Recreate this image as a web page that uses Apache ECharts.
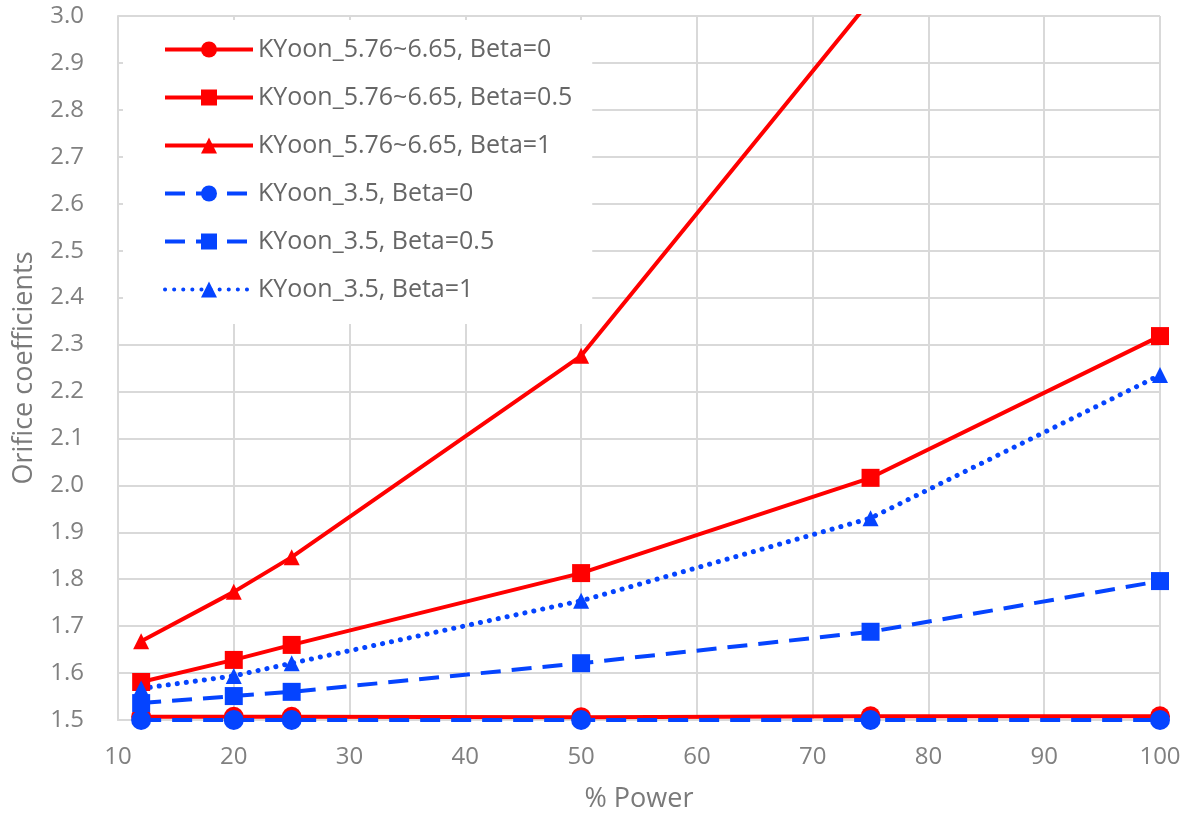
<!DOCTYPE html>
<html>
<head>
<meta charset="utf-8">
<script src="https://cdn.jsdelivr.net/npm/echarts@6/dist/echarts.min.js"></script>
<style>html,body{margin:0;padding:0;background:#fff}#c{width:1188px;height:820px}</style>
</head>
<body>
<div id="c"></div>
<script>
const powerX = [12, 20, 25, 50, 75, 100];
const seriesNames = [
  'KYoon_5.76~6.65, Beta=0',
  'KYoon_5.76~6.65, Beta=0.5',
  'KYoon_5.76~6.65, Beta=1',
  'KYoon_3.5, Beta=0',
  'KYoon_3.5, Beta=0.5',
  'KYoon_3.5, Beta=1'
];
const red_b0   = [1.507, 1.507, 1.507, 1.506, 1.508, 1.508];
const red_b05  = [1.581, 1.628, 1.660, 1.813, 2.016, 2.318];
const red_b1   = [1.668, 1.773, 1.847, 2.276, 3.034, 3.9];
const blue_b0  = [1.500, 1.500, 1.500, 1.500, 1.500, 1.500];
const blue_b05 = [1.536, 1.551, 1.560, 1.621, 1.688, 1.796];
const blue_b1  = [1.567, 1.594, 1.621, 1.754, 1.930, 2.235];
const yTicks = [1.5, 3.0, 0.1];
const xTicks = [10, 100, 10];

const RED = '#ff0000', BLUE = '#0544ff';
const pair = arr => powerX.map((x, i) => [x, arr[i]]);
const FONT = '"Open Sans", "Noto Sans", sans-serif';

function mk(name, data, color, symbol, size, lineType, cap, width) {
  return {
    name, type: 'line', data: pair(data), symbol, symbolSize: size,
    clip: true,
    lineStyle: { color, width: width || 4, type: lineType, cap: cap || 'butt' },
    itemStyle: { color, borderWidth: 0 },
    emphasis: { disabled: true }
  };
}

const chart = echarts.init(document.getElementById('c'), null, { renderer: 'canvas' });
chart.setOption({
  animation: false,
  backgroundColor: '#fff',
  grid: { left: 118, right: 28, top: 16, bottom: 100 },
  legend: {
    left: 123, top: 20, orient: 'vertical',
    backgroundColor: '#fff',
    padding: [17, 20, 22, 40],
    itemWidth: 88, itemHeight: 20, itemGap: 23,
    lineStyle: { width: 4 },
    textStyle: { fontFamily: FONT, fontSize: 25, color: '#666666', lineHeight: 25 },
    data: seriesNames,
    z: 10
  },
  xAxis: {
    type: 'value', min: xTicks[0], max: xTicks[1], interval: xTicks[2],
    name: '% Power', nameLocation: 'middle', nameGap: 66,
    nameTextStyle: { fontFamily: FONT, fontSize: 27, color: '#7a7a7a' },
    axisLine: { show: true, lineStyle: { color: '#d9d9d9', width: 2 } },
    axisTick: { show: false },
    axisLabel: { fontFamily: FONT, fontSize: 24, color: '#808080', margin: 25 },
    splitLine: { show: true, lineStyle: { color: '#d9d9d9', width: 2 } }
  },
  yAxis: {
    type: 'value', min: yTicks[0], max: yTicks[1], interval: yTicks[2],
    name: 'Orifice coefficients', nameLocation: 'middle', nameGap: 80,
    nameTextStyle: { fontFamily: FONT, fontSize: 27, color: '#7a7a7a' },
    axisLine: { show: true, lineStyle: { color: '#d9d9d9', width: 2 } },
    axisTick: { show: false },
    axisLabel: { fontFamily: FONT, fontSize: 24, color: '#808080', margin: 34,
      formatter: v => v.toFixed(1) },
    splitLine: { show: true, lineStyle: { color: '#d9d9d9', width: 2 } }
  },
  series: [
    mk(seriesNames[0], red_b0, RED, 'circle', 20, 'solid'),
    mk(seriesNames[1], red_b05, RED, 'rect', 18, 'solid'),
    mk(seriesNames[2], red_b1, RED, 'triangle', 16, 'solid'),
    mk(seriesNames[3], blue_b0, BLUE, 'circle', 20, [20, 11]),
    mk(seriesNames[4], blue_b05, BLUE, 'rect', 18, [20, 11]),
    mk(seriesNames[5], blue_b1, BLUE, 'triangle', 16, [0.1, 9], 'round', 5)
  ]
});
</script>
</body>
</html>
